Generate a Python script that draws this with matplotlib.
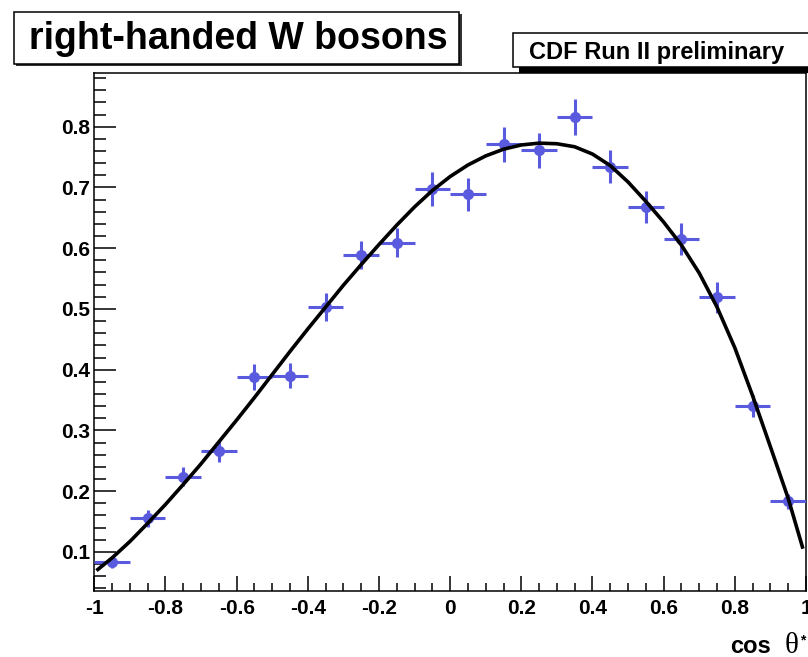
import matplotlib
matplotlib.use("Agg")
import matplotlib.pyplot as plt
from matplotlib.patches import Rectangle
from matplotlib.ticker import MultipleLocator, FixedLocator

# measured fraction per cos(theta*) bin
bin_centers = [-0.95, -0.85, -0.75, -0.65, -0.55, -0.45, -0.35, -0.25, -0.15, -0.05,
               0.05, 0.15, 0.25, 0.35, 0.45, 0.55, 0.65, 0.75, 0.85, 0.95]
frac = [0.083, 0.155, 0.224, 0.266, 0.388, 0.390, 0.503, 0.589, 0.609, 0.697,
        0.689, 0.771, 0.761, 0.816, 0.734, 0.668, 0.615, 0.519, 0.340, 0.183]
frac_err = [0.010, 0.014, 0.016, 0.018, 0.021, 0.021, 0.023, 0.023, 0.024, 0.028,
            0.027, 0.029, 0.029, 0.030, 0.027, 0.026, 0.026, 0.025, 0.018, 0.012]
bin_half = 0.05

# fitted curve
curve_x = [-0.99, -0.95, -0.9, -0.85, -0.8, -0.75, -0.7, -0.65, -0.6, -0.55, -0.5,
           -0.45, -0.4, -0.35, -0.3, -0.25, -0.2, -0.15, -0.1, -0.05, 0.0, 0.05,
           0.1, 0.15, 0.2, 0.25, 0.3, 0.35, 0.4, 0.45, 0.5, 0.55, 0.6, 0.65, 0.7,
           0.75, 0.8, 0.85, 0.9, 0.95, 0.99]
curve_y = [0.071, 0.090, 0.117, 0.147, 0.178, 0.211, 0.245, 0.281, 0.317, 0.354, 0.392,
           0.430, 0.467, 0.503, 0.539, 0.573, 0.606, 0.638, 0.668, 0.695, 0.718, 0.737,
           0.752, 0.763, 0.770, 0.773, 0.772, 0.767, 0.755, 0.736, 0.709, 0.677, 0.643,
           0.605, 0.559, 0.503, 0.436, 0.357, 0.273, 0.188, 0.108]

xticks = [-1, -0.8, -0.6, -0.4, -0.2, 0, 0.2, 0.4, 0.6, 0.8, 1]
xtick_labels = ["-1", "-0.8", "-0.6", "-0.4", "-0.2", "0", "0.2", "0.4", "0.6", "0.8", "1"]
yticks = [0.1, 0.2, 0.3, 0.4, 0.5, 0.6, 0.7, 0.8]
ytick_labels = ["0.1", "0.2", "0.3", "0.4", "0.5", "0.6", "0.7", "0.8"]

title = "right-handed W bosons"
tag = "CDF Run II preliminary"

W, H = 808, 657
FONT = "Liberation Sans"
BLUE = "#5a5ade"

fig = plt.figure(figsize=(W / 100, H / 100), dpi=100)

def fx(x):
    return x / W

def fy(y):
    return 1 - y / H

# axes frame in pixels: left 94, top 73, right 806, bottom 591
ax = fig.add_axes([fx(94.3), fy(591), fx(806) - fx(94.3), fy(73.3) - fy(591)])
ax.set_xlim(-1, 1)
ax.set_ylim(0.0355, 0.888)

ax.errorbar(bin_centers, frac, xerr=bin_half, yerr=frac_err, fmt="o",
            color=BLUE, ms=7, elinewidth=2.2, capsize=0, zorder=3)
ax.plot(curve_x, curve_y, color="black", lw=2.6, zorder=4)

ax.xaxis.set_major_locator(FixedLocator(xticks))
ax.xaxis.set_minor_locator(MultipleLocator(0.05))
ax.set_xticklabels(xtick_labels)
ax.yaxis.set_major_locator(FixedLocator(yticks))
ax.yaxis.set_minor_locator(MultipleLocator(0.02))
ax.set_yticklabels(ytick_labels)

ax.tick_params(axis="x", which="major", direction="in", length=11, width=1.1,
               pad=6, top=False)
ax.tick_params(axis="x", which="minor", direction="in", length=5.5, width=1.1, top=False)
ax.tick_params(axis="y", which="major", direction="in", length=16, width=1.1,
               pad=3, right=False)
ax.tick_params(axis="y", which="minor", direction="in", length=8.5, width=1.1, right=False)
for lab in ax.get_xticklabels() + ax.get_yticklabels():
    lab.set_fontfamily(FONT)
    lab.set_fontweight("bold")
    lab.set_fontsize(15)
for sp in ax.spines.values():
    sp.set_linewidth(1.1)

# x axis title, drawn by hand at the lower right
fig.text(fx(730), fy(653), "cos", fontfamily=FONT, fontweight="bold", fontsize=17,
         ha="left", va="baseline")
fig.text(fx(785), fy(653), "\u03b8", fontfamily="Liberation Serif", fontsize=21,
         ha="left", va="baseline")
fig.text(fx(800.5), fy(644), "*", fontfamily=FONT, fontweight="bold", fontsize=10,
         ha="left", va="baseline")

# title box with thin shadow
fig.add_artist(Rectangle((fx(16), fy(66)), fx(460) - fx(14), fy(12) - fy(64),
                         transform=fig.transFigure, facecolor="#333333",
                         edgecolor="none", zorder=5))
fig.add_artist(Rectangle((fx(13.5), fy(63.5)), fx(460) - fx(14), fy(12) - fy(64),
                         transform=fig.transFigure, facecolor="white",
                         edgecolor="black", lw=1.1, zorder=6))
fig.text(fx(238), fy(39), title, fontfamily=FONT, fontweight="bold", fontsize=27,
         ha="center", va="center", zorder=7)

# preliminary tag with thick black shadow
fig.add_artist(Rectangle((fx(519), fy(73)), fx(820) - fx(519), fy(38) - fy(73),
                         transform=fig.transFigure, facecolor="black",
                         edgecolor="none", zorder=5))
fig.add_artist(Rectangle((fx(513), fy(67)), fx(820) - fx(513), fy(33) - fy(67),
                         transform=fig.transFigure, facecolor="white",
                         edgecolor="black", lw=1.1, zorder=6))
fig.text(fx(657), fy(52), tag, fontfamily=FONT, fontweight="bold", fontsize=17,
         ha="center", va="center", zorder=7)

fig.savefig("out.png", dpi=100)
